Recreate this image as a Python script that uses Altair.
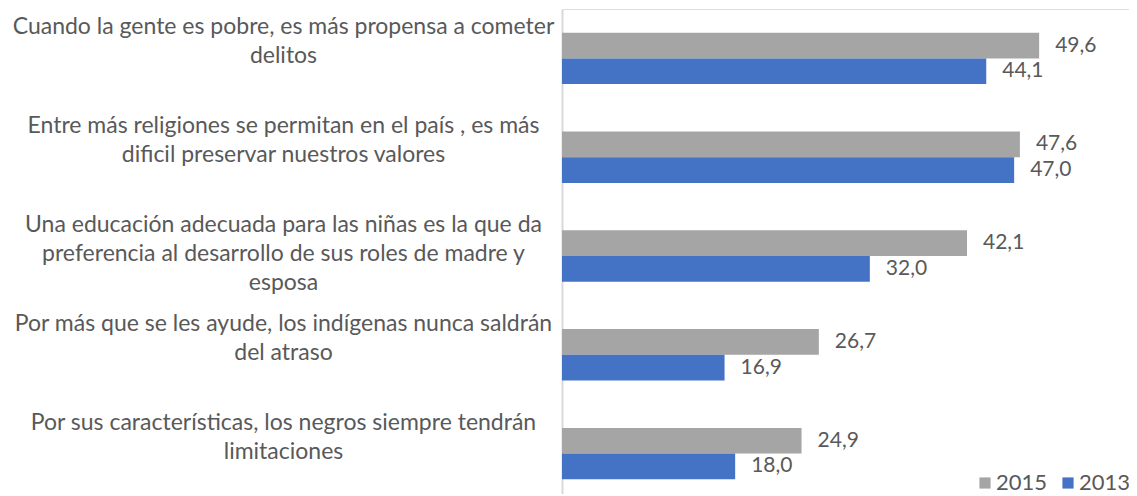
import altair as alt
import pandas as pd

categories = [
    "Cuando la gente es pobre, es más propensa a cometer|delitos",
    "Entre más religiones se permitan en el país , es más|dificil preservar nuestros valores",
    "Una educación adecuada para las niñas es la que da|preferencia al desarrollo de sus roles de madre y|esposa",
    "Por más que se les ayude, los indígenas nunca saldrán|del atraso",
    "Por sus características, los negros siempre tendrán|limitaciones",
]
series = ["2015", "2013"]
values_2015 = [49.6, 47.6, 42.1, 26.7, 24.9]
values_2013 = [44.1, 47.0, 32.0, 16.9, 18.0]
colors = ["#A5A5A5", "#4472C4"]

rows = []
for c, v15, v13 in zip(categories, values_2015, values_2013):
    rows.append({"cat": c, "serie": "2015", "value": v15, "label": f"{v15:.1f}".replace(".", ",")})
    rows.append({"cat": c, "serie": "2013", "value": v13, "label": f"{v13:.1f}".replace(".", ",")})
df = pd.DataFrame(rows)

FONT = "Lato"
TXT = "#595959"

y_enc = alt.Y(
    "cat:N",
    sort=categories,
    scale=alt.Scale(range=[0, 494], paddingInner=0.48, paddingOuter=0.24),
    axis=alt.Axis(
        title=None,
        labelExpr="split(datum.label, '|')",
        labelAlign="center",
        labelBaseline="alphabetic",
        labelPadding=279,
        labelOffset=-24,
        labelFont=FONT,
        labelFontSize=23,
        labelLineHeight=29,
        labelColor=TXT,
        labelLimit=0,
        ticks=False,
        domainColor="#D9D9D9",
        domainWidth=2,
        grid=False,
    ),
)
x_enc = alt.X("value:Q", scale=alt.Scale(domain=[0, 58.94]), axis=None)
yoff = alt.YOffset("serie:N", sort=series)

bars = alt.Chart(df).mark_bar().encode(
    x=x_enc,
    y=y_enc,
    yOffset=yoff,
    color=alt.Color(
        "serie:N",
        sort=series,
        scale=alt.Scale(domain=series, range=colors),
        legend=alt.Legend(
            title=None,
            orient="none",
            legendX=412,
            legendY=463,
            direction="horizontal",
            symbolType="square",
            symbolSize=125,
            symbolStrokeWidth=0,
            labelFont=FONT,
            labelFontSize=22,
            labelColor=TXT,
            labelOffset=0,
            columnPadding=9,
        ),
    ),
)

texts = alt.Chart(df).mark_text(
    align="left", baseline="middle", dx=16, font=FONT, fontSize=21, color=TXT
).encode(
    x=x_enc,
    y=alt.Y("cat:N", sort=categories),
    yOffset=yoff,
    text="label:N",
)

chart = (
    alt.layer(bars, texts)
    .properties(
        width=567,
        height=485,
        autosize=alt.AutoSizeParams(type="none"),
        padding={"left": 554, "top": 1, "right": 0, "bottom": 0},
    )
    .configure_view(stroke=None)
    .configure(background="white")
)

chart.save("out.html", embed_options={"renderer": "svg", "actions": False})
